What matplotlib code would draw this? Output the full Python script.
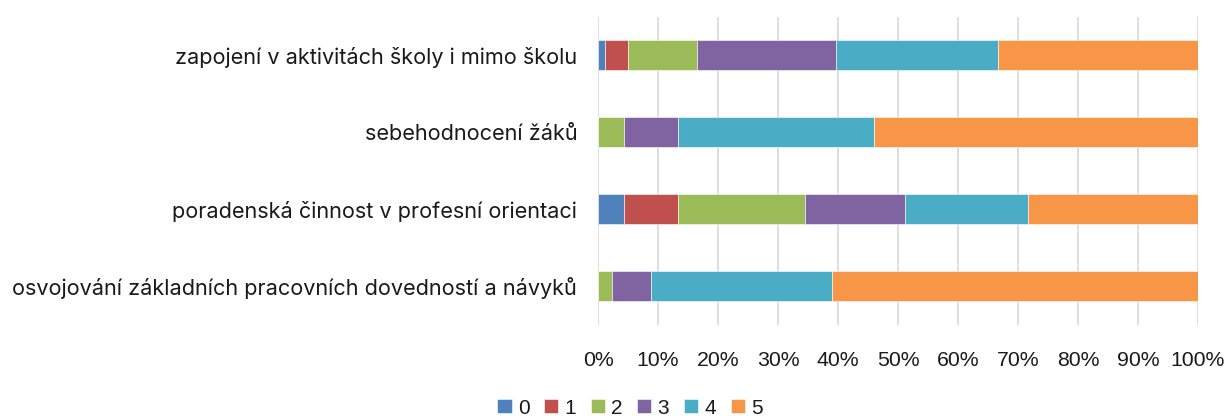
import matplotlib.pyplot as plt
import numpy as np

categories = [
    "zapojení v aktivitách školy i mimo školu",
    "sebehodnocení žáků",
    "poradenská činnost v profesní orientaci",
    "osvojování základních pracovních dovedností a návyků",
]
series_labels = ["0", "1", "2", "3", "4", "5"]
# percentages per category for each rating
s0 = [1.2, 0.0, 4.4, 0.0]
s1 = [3.8, 0.0, 8.9, 0.0]
s2 = [11.5, 4.4, 21.2, 2.4]
s3 = [23.2, 8.9, 16.7, 6.4]
s4 = [27.0, 32.7, 20.5, 30.2]
s5 = [33.3, 54.0, 28.3, 61.0]
series = [s0, s1, s2, s3, s4, s5]
colors = ["#4F81BD", "#C0504D", "#9BBB59", "#8064A2", "#4BACC6", "#F79646"]
tick_vals = list(range(0, 101, 10))
tick_labels = [f"{v}%" for v in tick_vals]

plt.rcParams['font.family'] = ['Liberation Sans', 'DejaVu Sans']

W, H = 1231, 418
fig = plt.figure(figsize=(W / 100, H / 100), dpi=100)
ax = fig.add_axes([598 / W, 1 - 324.5 / H, 600 / W, 308 / H])

y = np.arange(len(categories))
left = np.zeros(len(categories))
for vals, lab, c in zip(series, series_labels, colors):
    v = np.array(vals, dtype=float)
    ax.barh(y, v, left=left, height=0.39, color=c, label=lab,
            edgecolor="white", linewidth=0.4, zorder=3)
    left += v

ax.set_ylim(len(categories) - 0.5, -0.5)
ax.set_xlim(0, 100)
ax.set_yticks(y)
ax.set_yticklabels(categories, fontsize=15.6, color="#1a1a1a", family=['Inter', 'DejaVu Sans'])
ax.set_xticks(tick_vals)
ax.set_xticklabels(tick_labels, fontsize=15.3, color="#1a1a1a")
ax.tick_params(axis="both", length=0)
ax.tick_params(axis="x", pad=19)
ax.tick_params(axis="y", pad=15)
ax.xaxis.grid(True, color="#D9D9D9", linewidth=1.2, zorder=0)
for s in ax.spines.values():
    s.set_visible(False)

handles, labels = ax.get_legend_handles_labels()
fig.legend(handles, labels, loc="center", bbox_to_anchor=(630 / W, 1 - 408 / H),
           ncol=6, frameon=False, fontsize=15, handlelength=0.68, handleheight=0.68,
           handletextpad=0.3, columnspacing=0.7, borderaxespad=0, labelcolor="#1a1a1a")

fig.savefig("out.png", dpi=100)
